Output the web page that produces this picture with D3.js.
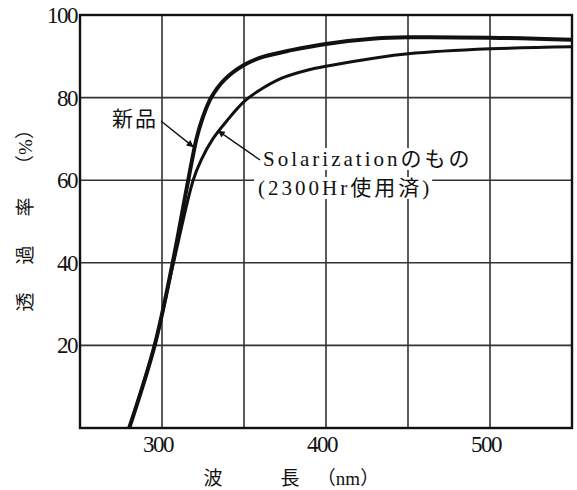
<!DOCTYPE html>
<html>
<head>
<meta charset="utf-8">
<script src="https://cdn.jsdelivr.net/npm/d3@7"></script>
<style>
  body { margin: 0; background: #fff; }
  svg { display: block; }
  text { font-family: "Liberation Serif", "DejaVu Serif", "Noto Sans CJK JP", serif; fill: #111; }
</style>
</head>
<body>
<div id="chart"></div>
<script>
// wavelength (nm) / transmittance (%)
const newNm  = [280, 295.5, 306.5, 316, 321, 324.7, 330, 338, 350, 362, 379, 400, 430, 450, 500, 550];
const newT   = [0, 20, 40, 60, 70, 75, 80, 84.3, 87.9, 89.9, 91.5, 93.0, 94.3, 94.6, 94.5, 94.0];
const solNm  = [280, 295.5, 307, 319, 324, 331, 340, 350, 358, 373, 389, 400, 430, 450, 500, 550];
const solT   = [0, 20, 40, 60, 65, 70, 74.6, 79, 81.4, 84.7, 86.7, 87.6, 89.6, 90.6, 91.8, 92.3];
const xTicks = [300, 400, 500];
const xGrid  = [300, 350, 400, 450, 500];
const yTicks = [20, 40, 60, 80, 100];

const W = 577, H = 490,
      margin = {top: 15, right: 5, bottom: 62, left: 80};

const svg = d3.select('#chart').append('svg')
  .attr('width', W)
  .attr('height', H);

const x = d3.scaleLinear().domain([250, 550]).range([margin.left, W - margin.right]);
const y = d3.scaleLinear().domain([0, 100]).range([H - margin.bottom, margin.top]);

// grid
svg.append('g')
  .selectAll('line')
  .data(xGrid)
  .join('line')
  .attr('x1', d => x(d)).attr('x2', d => x(d))
  .attr('y1', y(0)).attr('y2', y(100))
  .attr('stroke', '#333').attr('stroke-width', 1.6);

svg.append('g')
  .selectAll('line')
  .data(yTicks.filter(d => d < 100))
  .join('line')
  .attr('x1', x(250)).attr('x2', x(550))
  .attr('y1', d => y(d)).attr('y2', d => y(d))
  .attr('stroke', '#333').attr('stroke-width', 1.6);

// frame
svg.append('rect')
  .attr('x', x(250)).attr('y', y(100))
  .attr('width', x(550) - x(250)).attr('height', y(0) - y(100))
  .attr('fill', 'none').attr('stroke', '#111').attr('stroke-width', 2.4);

// tick labels
svg.append('g')
  .selectAll('text')
  .data(yTicks)
  .join('text')
  .attr('x', x(250) - 3)
  .attr('y', d => y(d) + 8)
  .attr('text-anchor', 'end')
  .attr('font-size', 23)
  .attr('letter-spacing', -1.5)
  .text(d => d);

svg.append('g')
  .selectAll('text')
  .data(xTicks)
  .join('text')
  .attr('x', d => x(d) - 4)
  .attr('y', y(0) + 24)
  .attr('text-anchor', 'middle')
  .attr('font-size', 23)
  .attr('letter-spacing', -1.5)
  .text(d => d);

// axis titles
const xt = svg.append('g').attr('font-size', 19);
xt.append('text').attr('x', 213).attr('y', 485).attr('text-anchor', 'middle').text('波');
xt.append('text').attr('x', 290).attr('y', 485).attr('text-anchor', 'middle').text('長');
xt.append('text').attr('x', 348).attr('y', 485).attr('text-anchor', 'middle').text('（nm）');

// y title: rotated glyphs, reading bottom to top
const yt = svg.append('g').attr('font-size', 19).attr('text-anchor', 'middle');
[['透', 302], ['過', 255], ['率', 207], ['（%）', 147]].forEach(([c, cy]) => {
  yt.append('text')
    .attr('transform', `translate(32,${cy}) rotate(-90)`)
    .text(c);
});

// curves
const line = d3.line()
  .x(d => x(d[0]))
  .y(d => y(d[1]))
  .curve(d3.curveCatmullRom.alpha(0.5));

svg.append('path')
  .datum(d3.zip(solNm, solT))
  .attr('d', line)
  .attr('fill', 'none').attr('stroke', '#111').attr('stroke-width', 3);

svg.append('path')
  .datum(d3.zip(newNm, newT))
  .attr('d', line)
  .attr('fill', 'none').attr('stroke', '#111').attr('stroke-width', 4);

// arrow marker
svg.append('defs').append('marker')
  .attr('id', 'arr')
  .attr('viewBox', '0 0 10 10')
  .attr('refX', 10).attr('refY', 5)
  .attr('markerWidth', 12).attr('markerHeight', 7)
  .attr('markerUnits', 'userSpaceOnUse')
  .attr('orient', 'auto')
  .append('path').attr('d', 'M0,0L10,5L0,10z').attr('fill', '#111');

// label: new
svg.append('text')
  .attr('x', 112).attr('y', 126)
  .attr('font-size', 21)
  .attr('letter-spacing', 2)
  .text('新品');
svg.append('line')
  .attr('x1', 161).attr('y1', 121)
  .attr('x2', x(319.3)).attr('y2', y(68))
  .attr('stroke', '#111').attr('stroke-width', 1.4)
  .attr('marker-end', 'url(#arr)');

// label: solarization (white backing hides grid)
const lab = svg.append('g').attr('font-size', 21).attr('letter-spacing', 3);
const l1 = lab.append('text').attr('x', 263).attr('y', 166).text('Solarizationのもの');
const l2 = lab.append('text').attr('x', 258).attr('y', 195).text('(2300Hr使用済)');
[l1, l2].forEach(t => {
  const b = t.node().getBBox();
  lab.insert('rect', 'text')
    .attr('x', b.x - 4).attr('y', b.y + 1)
    .attr('width', b.width + 4).attr('height', b.height - 2)
    .attr('fill', '#fff');
});
svg.append('line')
  .attr('x1', 260).attr('y1', 160)
  .attr('x2', x(334)).attr('y2', y(72))
  .attr('stroke', '#111').attr('stroke-width', 1.4)
  .attr('marker-end', 'url(#arr)');
</script>
</body>
</html>
